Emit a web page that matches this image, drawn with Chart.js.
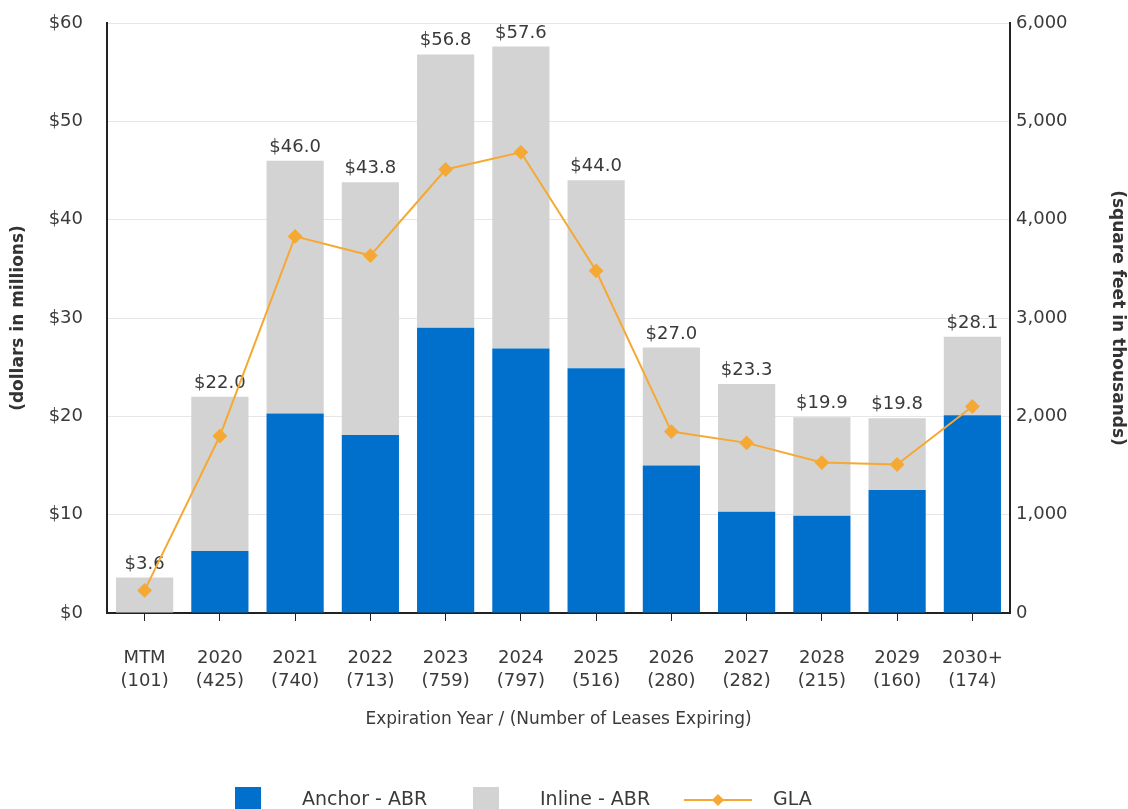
<!DOCTYPE html>
<html>
<head>
<meta charset="utf-8">
<script src="https://cdn.jsdelivr.net/npm/chart.js@4.4.1/dist/chart.umd.min.js"></script>
<style>
  html, body { margin: 0; padding: 0; background: #fff; }
  #wrap { width: 1128px; height: 809px; }
</style>
</head>
<body>
<div id="wrap"><canvas id="leaseChart"></canvas></div>
<script>
const years = ["MTM", "2020", "2021", "2022", "2023", "2024", "2025", "2026", "2027", "2028", "2029", "2030+"];
const leaseCounts = [101, 425, 740, 713, 759, 797, 516, 280, 282, 215, 160, 174];
const anchorAbr = [0, 6.3, 20.3, 18.1, 29.0, 26.9, 24.9, 15.0, 10.3, 9.9, 12.5, 20.1];
const inlineAbr = [3.6, 15.7, 25.7, 25.7, 27.8, 30.7, 19.1, 12.0, 13.0, 10.0, 7.3, 8.0];
const totalAbr = [3.6, 22.0, 46.0, 43.8, 56.8, 57.6, 44.0, 27.0, 23.3, 19.9, 19.8, 28.1];
const glaThousands = [230, 1800, 3830, 3635, 4510, 4685, 3480, 1845, 1730, 1530, 1510, 2100];

const blue = "#0070cc";
const gray = "#d3d3d3";
const orange = "#f5a934";
const textColor = "#3a3a3a";
const fontFamily = "'DejaVu Sans', Verdana, sans-serif";

const labels = years.map((y, i) => [y, "(" + leaseCounts[i] + ")"]);

// totals written above each stacked bar
const barTotals = {
    id: "barTotals",
    afterDatasetDraw(chart, args) {
        if (args.index !== 1) return;
        const ctx = chart.ctx;
        const meta = chart.getDatasetMeta(1);
        ctx.save();
        ctx.font = "18px " + fontFamily;
        ctx.fillStyle = textColor;
        ctx.textAlign = "center";
        ctx.textBaseline = "alphabetic";
        meta.data.forEach((bar, i) => {
            ctx.fillText("$" + totalAbr[i].toFixed(1), bar.x, bar.y - 9);
        });
        ctx.restore();
    }
};

// legend along the bottom edge
const bottomLegend = {
    id: "bottomLegend",
    afterDraw(chart) {
        const ctx = chart.ctx;
        const ds = chart.data.datasets;
        const y = 800;
        ctx.save();
        ctx.font = "19px " + fontFamily;
        ctx.fillStyle = textColor;
        ctx.textBaseline = "middle";

        ctx.fillStyle = ds[0].backgroundColor;
        ctx.fillRect(235, 787, 26, 26);
        ctx.fillStyle = textColor;
        ctx.fillText(ds[0].label, 302, y);

        ctx.fillStyle = ds[1].backgroundColor;
        ctx.fillRect(473, 787, 26, 26);
        ctx.fillStyle = textColor;
        ctx.fillText(ds[1].label, 540, y);

        ctx.strokeStyle = ds[2].borderColor;
        ctx.lineWidth = 2;
        ctx.beginPath();
        ctx.moveTo(684, y);
        ctx.lineTo(752, y);
        ctx.stroke();
        ctx.fillStyle = ds[2].borderColor;
        ctx.beginPath();
        ctx.moveTo(718, y - 6);
        ctx.lineTo(724, y);
        ctx.lineTo(718, y + 6);
        ctx.lineTo(712, y);
        ctx.closePath();
        ctx.fill();
        ctx.fillStyle = textColor;
        ctx.fillText(ds[2].label, 773, y);
        ctx.restore();
    }
};

new Chart(document.getElementById("leaseChart"), {
    type: "bar",
    data: {
        labels: labels,
        datasets: [
            {
                label: "Anchor - ABR",
                data: anchorAbr,
                backgroundColor: blue,
                stack: "abr",
                yAxisID: "y",
                order: 1,
                barPercentage: 0.76,
                categoryPercentage: 1
            },
            {
                label: "Inline - ABR",
                data: inlineAbr,
                backgroundColor: gray,
                stack: "abr",
                yAxisID: "y",
                order: 1,
                barPercentage: 0.76,
                categoryPercentage: 1
            },
            {
                type: "line",
                label: "GLA",
                data: glaThousands,
                borderColor: orange,
                backgroundColor: orange,
                borderWidth: 2,
                pointStyle: "rectRot",
                pointRadius: 6,
                pointHoverRadius: 6,
                tension: 0,
                yAxisID: "y1",
                order: 0
            }
        ]
    },
    options: {
        responsive: true,
        maintainAspectRatio: false,
        animation: false,
        layout: { padding: { top: 23, left: 0, right: 0, bottom: 70 } },
        plugins: {
            legend: { display: false },
            tooltip: { enabled: false }
        },
        scales: {
            x: {
                stacked: true,
                grid: {
                    drawOnChartArea: false,
                    offset: false,
                    tickLength: 8,
                    tickColor: "#222",
                    tickWidth: 1
                },
                border: { color: "#222", width: 2 },
                ticks: {
                    color: textColor,
                    padding: 26,
                    maxRotation: 0,
                    font: { family: fontFamily, size: 18, lineHeight: 1.28 }
                },
                title: {
                    display: true,
                    text: "Expiration Year / (Number of Leases Expiring)",
                    color: textColor,
                    font: { family: fontFamily, size: 17 },
                    padding: { top: 9, bottom: 9 }
                },
                afterFit(scale) { scale.height = 126; }
            },
            y: {
                stacked: true,
                min: 0,
                max: 60,
                grid: { color: "#e6e6e6", drawTicks: false },
                border: { color: "#222", width: 2 },
                ticks: {
                    stepSize: 10,
                    padding: 24,
                    color: textColor,
                    font: { family: fontFamily, size: 18 },
                    callback: v => "$" + v
                },
                title: {
                    display: true,
                    text: "(dollars in millions)",
                    color: "#333",
                    font: { family: fontFamily, size: 17, weight: "bold" },
                    padding: { top: 8, bottom: 8 }
                },
                afterFit(scale) {
                    scale.width = 107;
                    scale.paddingTop = 0;
                    scale.paddingBottom = 0;
                }
            },
            y1: {
                position: "right",
                min: 0,
                max: 6000,
                grid: { drawOnChartArea: false, drawTicks: false },
                border: { color: "#222", width: 2 },
                ticks: {
                    stepSize: 1000,
                    padding: 6,
                    color: textColor,
                    font: { family: fontFamily, size: 18 },
                    callback: v => v.toLocaleString("en-US")
                },
                title: {
                    display: true,
                    text: "(square feet in thousands)",
                    color: "#333",
                    font: { family: fontFamily, size: 17, weight: "bold" },
                    padding: { top: 0, bottom: 0 }
                },
                afterFit(scale) {
                    scale.width = 118;
                    scale.paddingTop = 0;
                    scale.paddingBottom = 0;
                }
            }
        }
    },
    plugins: [barTotals, bottomLegend]
});
</script>
</body>
</html>
